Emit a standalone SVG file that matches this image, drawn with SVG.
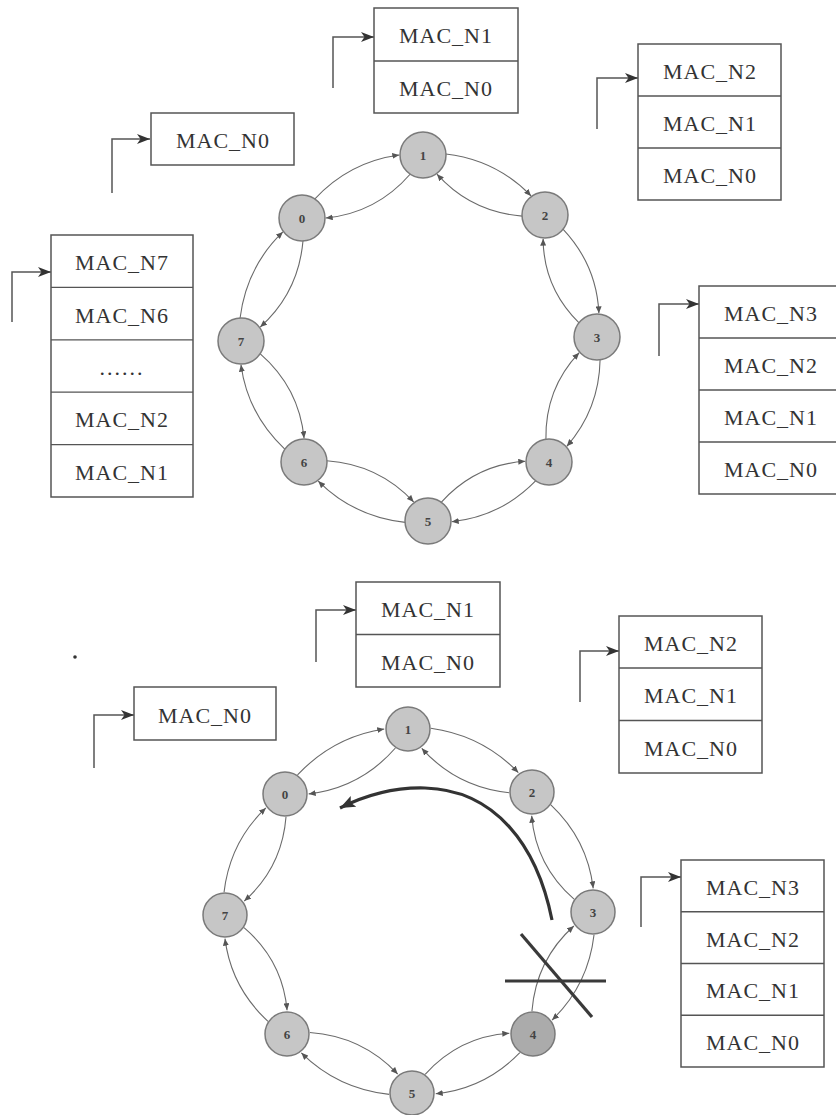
<svg xmlns="http://www.w3.org/2000/svg" width="836" height="1115" viewBox="0 0 836 1115">
<style>
.box{fill:#fff;stroke:#555;stroke-width:1.5}
.div{stroke:#555;stroke-width:1.3}
.lbl{font-family:"Liberation Serif","Times New Roman",serif;font-size:22px;fill:#333;text-anchor:middle;letter-spacing:1px}
.node{fill:#c6c6c6;stroke:#7a7a7a;stroke-width:1.5}
.dark{fill:#ababab}
.nl{font-family:"Liberation Serif","Times New Roman",serif;font-size:13px;font-weight:bold;fill:#444;text-anchor:middle}
.arc{fill:none;stroke:#6a6a6a;stroke-width:1.1;marker-end:url(#ah)}
.br{fill:none;stroke:#555;stroke-width:1.5;marker-end:url(#big)}
.thick{fill:none;stroke:#333;stroke-width:3.2;marker-end:url(#thk)}
.cross{stroke:#3a3a3a;stroke-width:3.2}
</style>
<defs>
<marker id="ah" markerUnits="userSpaceOnUse" markerWidth="8" markerHeight="6" refX="7" refY="3" orient="auto"><path d="M0,0 L7,3 L0,6 z" fill="#555"/></marker>
<marker id="big" markerUnits="userSpaceOnUse" markerWidth="14" markerHeight="11" refX="13" refY="5" orient="auto"><path d="M0,0 L13,5 L0,10 L3.5,5 z" fill="#333"/></marker>
<marker id="thk" markerUnits="userSpaceOnUse" markerWidth="18" markerHeight="13" refX="15" refY="6" orient="auto"><path d="M0,0 L15,6 L0,12 L3,6 z" fill="#333"/></marker>
</defs>

<g id="connectors">
<!-- top ring -->
<g transform="translate(302,218) rotate(-27.5)"><path class="arc" d="M20,-11 Q68.2,-28 115.4,-11"/><path class="arc" d="M116.4,11 Q68.2,30 21,11"/></g>
<g transform="translate(423,155) rotate(26.2)"><path class="arc" d="M20,-11 Q68,-28 115,-11"/><path class="arc" d="M116,11 Q68,30 21,11"/></g>
<g transform="translate(545,215) rotate(66.9)"><path class="arc" d="M20,-11 Q66.3,-28 111.6,-11"/><path class="arc" d="M112.6,11 Q66.3,30 21,11"/></g>
<g transform="translate(597,337) rotate(111)"><path class="arc" d="M20,-11 Q67,-28 112.9,-11"/><path class="arc" d="M113.9,11 Q67,30 21,11"/></g>
<g transform="translate(549,462) rotate(154)"><path class="arc" d="M20,-11 Q67.3,-28 113.6,-11"/><path class="arc" d="M114.6,11 Q67.3,30 21,11"/></g>
<g transform="translate(428,521) rotate(-154.6)"><path class="arc" d="M20,-11 Q68.7,-28 116.3,-11"/><path class="arc" d="M117.3,11 Q68.7,30 21,11"/></g>
<g transform="translate(304,462) rotate(-117.5)"><path class="arc" d="M20,-11 Q68.2,-28 115.4,-11"/><path class="arc" d="M116.4,11 Q68.2,30 21,11"/></g>
<g transform="translate(241,341) rotate(-63.6)"><path class="arc" d="M20,-11 Q68.7,-28 116.3,-11"/><path class="arc" d="M117.3,11 Q68.7,30 21,11"/></g>
<!-- bottom ring -->
<g transform="translate(285,794) rotate(-27.9)"><path class="arc" d="M20,-11 Q69.6,-28 118.1,-11"/><path class="arc" d="M119.1,11 Q69.6,30 21,11"/></g>
<g transform="translate(408,729) rotate(26.9)"><path class="arc" d="M20,-11 Q69.6,-28 118.1,-11"/><path class="arc" d="M119.1,11 Q69.6,30 21,11"/></g>
<g transform="translate(532,792) rotate(63.1)"><path class="arc" d="M20,-11 Q67.3,-28 113.6,-11"/><path class="arc" d="M114.6,11 Q67.3,30 21,11"/></g>
<g transform="translate(593,912) rotate(116.2)"><path class="arc" d="M20,-11 Q68,-28 115,-11"/><path class="arc" d="M116,11 Q68,30 21,11"/></g>
<g transform="translate(533,1034) rotate(154)"><path class="arc" d="M20,-11 Q67.3,-28 113.6,-11"/><path class="arc" d="M114.6,11 Q67.3,30 21,11"/></g>
<g transform="translate(412,1093) rotate(-154.7)"><path class="arc" d="M20,-11 Q69.1,-28 117.2,-11"/><path class="arc" d="M118.2,11 Q69.1,30 21,11"/></g>
<g transform="translate(287,1034) rotate(-117.5)"><path class="arc" d="M20,-11 Q67.1,-28 113.2,-11"/><path class="arc" d="M114.2,11 Q67.1,30 21,11"/></g>
<g transform="translate(225,915) rotate(-63.6)"><path class="arc" d="M20,-11 Q67.6,-28 114.1,-11"/><path class="arc" d="M115.1,11 Q67.6,30 21,11"/></g>
<!-- bracket pointers -->
<path class="br" d="M112,193 V139 H150"/>
<path class="br" d="M333,88 V37 H374"/>
<path class="br" d="M597,129 V78 H638"/>
<path class="br" d="M12,322 V272 H51"/>
<path class="br" d="M659,356 V304 H699"/>
<path class="br" d="M316,662 V610 H356"/>
<path class="br" d="M94,768 V715 H134"/>
<path class="br" d="M580,702 V651 H619"/>
<path class="br" d="M641,927 V877 H681"/>
<!-- failure redirect and cut link -->
<path class="thick" d="M552,920 C537,845 495,790 425,788 C390,787 362,797 340,808"/>
<line class="cross" x1="505" y1="981" x2="606" y2="981"/>
<line class="cross" x1="521" y1="934" x2="592" y2="1017"/>
</g>

<!-- top ring nodes -->
<g id="t0"><circle class="node" cx="302" cy="218" r="23"/><text class="nl" x="302" y="223">0</text></g>
<g id="t1"><circle class="node" cx="423" cy="155" r="23"/><text class="nl" x="423" y="160">1</text></g>
<g id="t2"><circle class="node" cx="545" cy="215" r="23"/><text class="nl" x="545" y="220">2</text></g>
<g id="t3"><circle class="node" cx="597" cy="337" r="23"/><text class="nl" x="597" y="342">3</text></g>
<g id="t4"><circle class="node" cx="549" cy="462" r="23"/><text class="nl" x="549" y="467">4</text></g>
<g id="t5"><circle class="node" cx="428" cy="521" r="23"/><text class="nl" x="428" y="526">5</text></g>
<g id="t6"><circle class="node" cx="304" cy="462" r="23"/><text class="nl" x="304" y="467">6</text></g>
<g id="t7"><circle class="node" cx="241" cy="341" r="23"/><text class="nl" x="241" y="346">7</text></g>

<!-- bottom ring nodes -->
<g id="b0"><circle class="node" cx="285" cy="794" r="22"/><text class="nl" x="285" y="799">0</text></g>
<g id="b1"><circle class="node" cx="408" cy="729" r="22"/><text class="nl" x="408" y="734">1</text></g>
<g id="b2"><circle class="node" cx="532" cy="792" r="22"/><text class="nl" x="532" y="797">2</text></g>
<g id="b3"><circle class="node" cx="593" cy="912" r="22"/><text class="nl" x="593" y="917">3</text></g>
<g id="b4"><circle class="node dark" cx="533" cy="1034" r="22"/><text class="nl" x="533" y="1039">4</text></g>
<g id="b5"><circle class="node" cx="412" cy="1093" r="22"/><text class="nl" x="412" y="1098">5</text></g>
<g id="b6"><circle class="node" cx="287" cy="1034" r="22"/><text class="nl" x="287" y="1039">6</text></g>
<g id="b7"><circle class="node" cx="225" cy="915" r="22"/><text class="nl" x="225" y="920">7</text></g>

<!-- top stacks -->
<g id="ts0"><rect class="box" x="151" y="113" width="143" height="52"/><text class="lbl" x="223" y="148">MAC_N0</text></g>
<g id="ts1"><rect class="box" x="374" y="8" width="144" height="105"/><line class="div" x1="374" y1="61" x2="518" y2="61"/>
<text class="lbl" x="446" y="43">MAC_N1</text><text class="lbl" x="446" y="96">MAC_N0</text></g>
<g id="ts2"><rect class="box" x="638" y="44" width="143" height="156"/><line class="div" x1="638" y1="96" x2="781" y2="96"/><line class="div" x1="638" y1="148" x2="781" y2="148"/>
<text class="lbl" x="710" y="79">MAC_N2</text><text class="lbl" x="710" y="131">MAC_N1</text><text class="lbl" x="710" y="183">MAC_N0</text></g>
<g id="ts7"><rect class="box" x="51" y="235" width="142" height="262"/>
<line class="div" x1="51" y1="287.4" x2="193" y2="287.4"/><line class="div" x1="51" y1="339.8" x2="193" y2="339.8"/><line class="div" x1="51" y1="392.2" x2="193" y2="392.2"/><line class="div" x1="51" y1="444.6" x2="193" y2="444.6"/>
<text class="lbl" x="122" y="270">MAC_N7</text><text class="lbl" x="122" y="322.6">MAC_N6</text><text class="lbl" x="122" y="375" style="letter-spacing:2px">......</text><text class="lbl" x="122" y="427.4">MAC_N2</text><text class="lbl" x="122" y="479.8">MAC_N1</text></g>
<g id="ts3"><rect class="box" x="699" y="286" width="146" height="208"/>
<line class="div" x1="699" y1="338" x2="845" y2="338"/><line class="div" x1="699" y1="390" x2="845" y2="390"/><line class="div" x1="699" y1="442" x2="845" y2="442"/>
<text class="lbl" x="771" y="321">MAC_N3</text><text class="lbl" x="771" y="373">MAC_N2</text><text class="lbl" x="771" y="425">MAC_N1</text><text class="lbl" x="771" y="477">MAC_N0</text></g>

<!-- bottom stacks -->
<g id="bs1"><rect class="box" x="356" y="582" width="144" height="105"/><line class="div" x1="356" y1="634.5" x2="500" y2="634.5"/>
<text class="lbl" x="428" y="617">MAC_N1</text><text class="lbl" x="428" y="670">MAC_N0</text></g>
<g id="bs0"><rect class="box" x="134" y="687" width="142" height="53"/><text class="lbl" x="205" y="722.5">MAC_N0</text></g>
<g id="bs2"><rect class="box" x="619" y="616" width="143" height="157"/><line class="div" x1="619" y1="668" x2="762" y2="668"/><line class="div" x1="619" y1="720.5" x2="762" y2="720.5"/>
<text class="lbl" x="691" y="651">MAC_N2</text><text class="lbl" x="691" y="703">MAC_N1</text><text class="lbl" x="691" y="756">MAC_N0</text></g>
<g id="bs3"><rect class="box" x="681" y="860" width="143" height="207"/>
<line class="div" x1="681" y1="911.75" x2="824" y2="911.75"/><line class="div" x1="681" y1="963.5" x2="824" y2="963.5"/><line class="div" x1="681" y1="1015.25" x2="824" y2="1015.25"/>
<text class="lbl" x="753" y="895">MAC_N3</text><text class="lbl" x="753" y="946.6">MAC_N2</text><text class="lbl" x="753" y="998.4">MAC_N1</text><text class="lbl" x="753" y="1050">MAC_N0</text></g>

<circle cx="75" cy="657" r="1.8" fill="#333"/>
</svg>
